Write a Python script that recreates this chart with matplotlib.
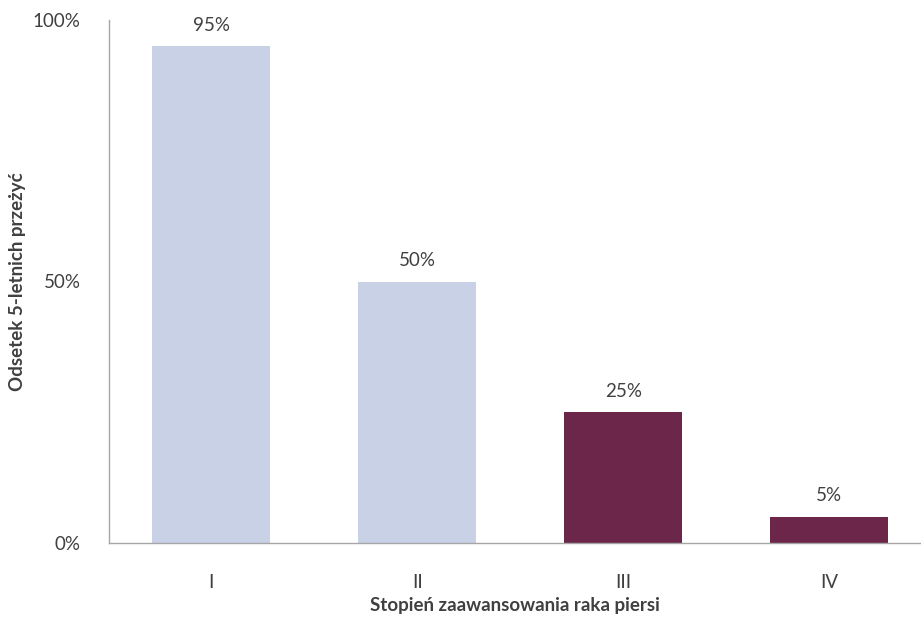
import matplotlib.pyplot as plt
from matplotlib.ticker import FuncFormatter

stages = ["I", "II", "III", "IV"]
survival = [95, 50, 25, 5]
bar_colors = ["#C9D1E6", "#C9D1E6", "#6C2649", "#6C2649"]

plt.rcParams["font.family"] = ["Lato", "DejaVu Sans"]
text_color = "#404040"

fig = plt.figure(figsize=(9.21, 6.18), dpi=100)
ax = fig.add_axes([108.5 / 921, 75 / 618, 1 - 108.5 / 921, 523 / 618])

x = range(len(stages))
bars = ax.bar(x, survival, width=0.573, color=bar_colors)
for b, v in zip(bars, survival):
    ax.text(b.get_x() + b.get_width() / 2, v + 2.4, f"{v}%",
            ha="center", va="bottom", fontsize=13.5, color=text_color)

ax.set_xlim(-0.5, 3.447)
ax.set_ylim(0, 100)
ax.set_xticks(list(x))
ax.set_xticklabels(stages)
ax.set_yticks([0, 50, 100])
ax.yaxis.set_major_formatter(FuncFormatter(lambda v, _: f"{v:.0f}%"))
ax.tick_params(length=0, labelsize=13.5, colors=text_color)
ax.tick_params(axis="y", pad=20)
ax.tick_params(axis="x", pad=22)

for side in ("top", "right"):
    ax.spines[side].set_visible(False)
for side in ("left", "bottom"):
    ax.spines[side].set_color("#A6A6A6")
    ax.spines[side].set_linewidth(1)

# axis titles placed in figure coordinates so they sit close to the edges
fig.text(515 / 921, 1 - 606 / 618, "Stopień zaawansowania raka piersi",
         ha="center", va="center", fontsize=13.5, fontweight="bold", color=text_color)
fig.text(18 / 921, 1 - 282 / 618, "Odsetek 5-letnich przeżyć", rotation=90,
         ha="center", va="center", fontsize=13.5, fontweight="bold", color=text_color)

fig.savefig("out.png", dpi=100)
